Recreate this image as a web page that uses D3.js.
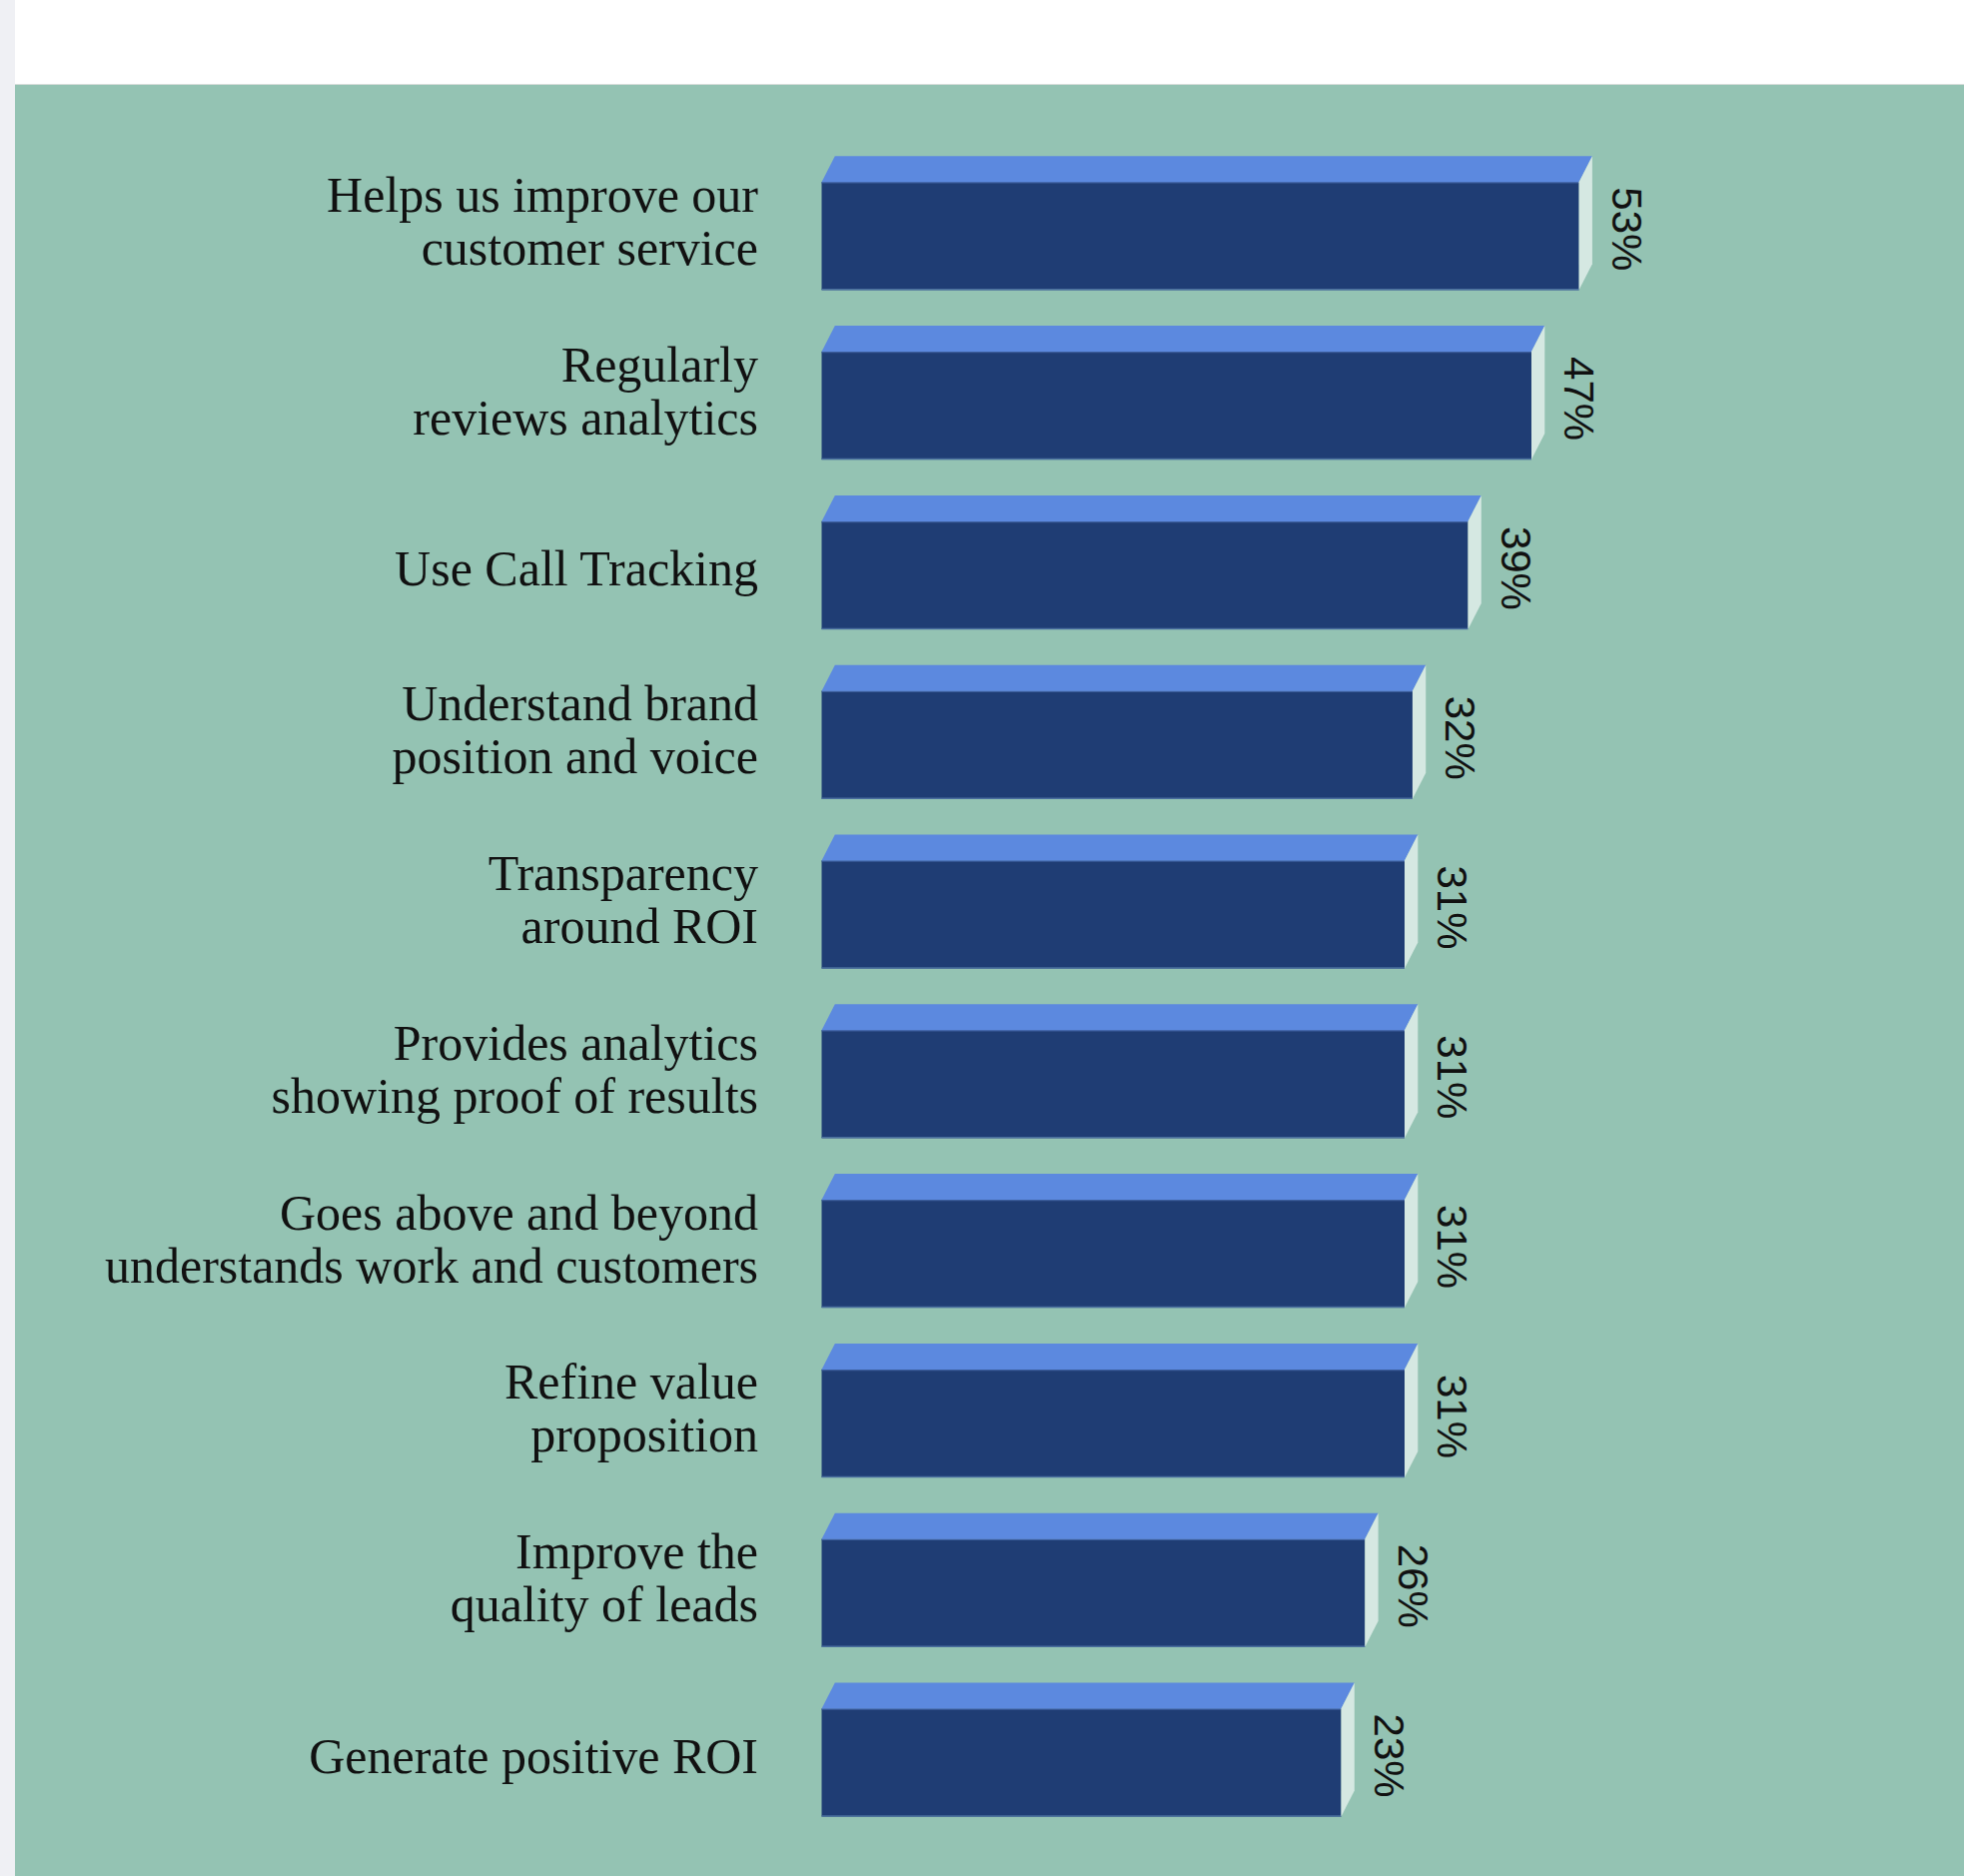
<!DOCTYPE html>
<html>
<head>
<meta charset="utf-8">
<script src="https://cdn.jsdelivr.net/npm/d3@7"></script>
<style>
  html, body { margin: 0; padding: 0; background: #ffffff; }
  svg { display: block; }
</style>
</head>
<body>
<svg id="chart" width="1966" height="1878"></svg>
<script>
// ---- data ----
const categories = [
  "Helps us improve our\ncustomer service",
  "Regularly\nreviews analytics",
  "Use Call Tracking",
  "Understand brand\nposition and voice",
  "Transparency\naround ROI",
  "Provides analytics\nshowing proof of results",
  "Goes above and beyond\nunderstands work and customers",
  "Refine value\nproposition",
  "Improve the\nquality of leads",
  "Generate positive ROI"
];
const values = [53, 47, 39, 32, 31, 31, 31, 31, 26, 23];
const valueLabels = ["53%", "47%", "39%", "32%", "31%", "31%", "31%", "31%", "26%", "23%"];

// ---- layout ----
const W = 1966, H = 1878;
const svg = d3.select("#chart");

// page chrome
svg.append("rect").attr("x", 0).attr("y", 0).attr("width", W).attr("height", H).attr("fill", "#ffffff");
svg.append("rect").attr("x", 0).attr("y", 0).attr("width", 15).attr("height", H).attr("fill", "#eff0f4");
svg.append("rect").attr("x", 15).attr("y", 85).attr("width", W - 15).attr("height", H - 85).attr("fill", "#94c3b3");
svg.append("line").attr("x1", 15).attr("x2", W).attr("y1", 84.5).attr("y2", 84.5).attr("stroke", "#d6dcd9").attr("stroke-width", 1);

const xBase = 822.5;
const depthX = 13.3, depthY = 26;

const x = d3.scaleLinear().domain([0, 53]).range([xBase + 337.5, xBase + 758.1]);
const y = d3.scaleBand().domain(categories).range([156.3, 1818.5]).paddingInner(0.211).paddingOuter(0);

const rows = categories.map((c, i) => ({ c, v: values[i], lab: valueLabels[i] }));

const g = svg.append("g");
const bar = g.selectAll("g.bar").data(rows).join("g").attr("class", "bar");

// front face
bar.append("rect")
  .attr("x", xBase)
  .attr("y", d => y(d.c) + depthY)
  .attr("width", d => x(d.v) - xBase)
  .attr("height", d => y.bandwidth() - depthY)
  .attr("fill", "#1f3d74");

// thin edges on front
bar.append("line")
  .attr("x1", xBase).attr("x2", d => x(d.v))
  .attr("y1", d => y(d.c) + depthY + 0.5).attr("y2", d => y(d.c) + depthY + 0.5)
  .attr("stroke", "#3c5e9c").attr("stroke-width", 1.5);
bar.append("line")
  .attr("x1", xBase).attr("x2", d => x(d.v))
  .attr("y1", d => y(d.c) + y.bandwidth() - 0.5).attr("y2", d => y(d.c) + y.bandwidth() - 0.5)
  .attr("stroke", "#4a6f9e").attr("stroke-width", 1.5);

// top face
bar.append("path")
  .attr("d", d => {
    const t = y(d.c) + depthY, r = x(d.v);
    return `M${xBase},${t}L${xBase + depthX},${t - depthY}L${r + depthX},${t - depthY}L${r},${t}Z`;
  })
  .attr("fill", "#5c89df");

// side face
bar.append("path")
  .attr("d", d => {
    const t = y(d.c) + depthY, b = y(d.c) + y.bandwidth(), r = x(d.v);
    return `M${r},${t}L${r + depthX},${t - depthY}L${r + depthX},${b - depthY}L${r},${b}Z`;
  })
  .attr("fill", "#d5e8e2");

// value labels (rotated)
bar.append("text")
  .attr("transform", d => `translate(${x(d.v) + depthX + 20},${y(d.c) + depthY + 5}) rotate(90)`)
  .attr("font-family", "'Liberation Sans', Arial, sans-serif")
  .attr("font-size", 42)
  .attr("fill", "#111111")
  .attr("text-anchor", "start")
  .text(d => d.lab);

// category labels
const labelX = 759;
const lh = 53;
bar.each(function(d) {
  const lines = d.c.split("\n");
  const center = y(d.c) + y.bandwidth() / 2;
  const off = lines.length === 1 ? 23 : 15;
  const t = d3.select(this).append("text")
    .attr("text-anchor", "end")
    .attr("font-family", "'Liberation Serif', 'Times New Roman', serif")
    .attr("font-size", 50)
    .attr("fill", "#111111");
  lines.forEach((ln, i) => {
    t.append("tspan")
      .attr("x", labelX)
      .attr("y", center + off + (i - (lines.length - 1) / 2) * lh)
      .text(ln);
  });
});
</script>
</body>
</html>
